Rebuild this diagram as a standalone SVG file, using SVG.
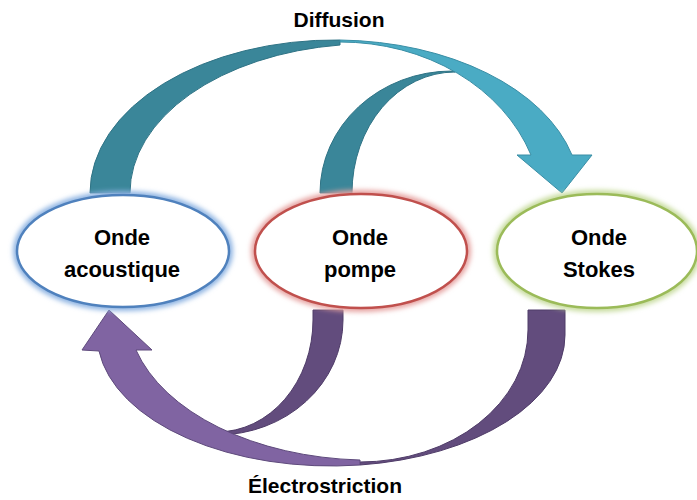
<svg xmlns="http://www.w3.org/2000/svg" width="697" height="500" viewBox="0 0 697 500">
<defs>
<filter id="glow" x="-20%" y="-30%" width="140%" height="160%"><feGaussianBlur stdDeviation="2.5"/></filter>
<style>
.tealD{fill:#3A8699;stroke:#2F7385;stroke-width:1}
.tealL{fill:#4AABC4;stroke:#3A8EA5;stroke-width:1}
.purpD{fill:#624C7D;stroke:#4F3C68;stroke-width:1}
.purpL{fill:#8064A2;stroke:#5E4A7C;stroke-width:1}
.node{fill:#ffffff;stroke-width:2.5}
.lbl{font-family:"Liberation Sans",Arial,sans-serif;font-weight:bold;font-size:22px;fill:#000;text-anchor:middle}
.cap{font-family:"Liberation Sans",Arial,sans-serif;font-weight:bold;font-size:21px;fill:#000;text-anchor:middle}
</style>
</defs>
<rect width="697" height="500" fill="#ffffff"/>
<g id="connectors">
<path class="tealD" d="M 320,193 A 132 122 0 0 1 452,71 L 455,72 A 103 121 0 0 0 352,193 Z"/>
<path class="tealD" d="M 90,193 A 245 153 0 0 1 340,40 L 340,45 A 240 149 0 0 0 130,193 Z"/>
<path class="tealL" d="M 340,40 A 245 153 0 0 1 572,155 L 592,155 L 562,193 L 517,155 L 531,155 A 202 168 0 0 0 340,42 Z"/>
<path class="purpD" d="M 343,310 L 343,320 A 126 115 0 0 1 217,435 L 217,432 A 96 112 0 0 0 313,320 L 313,310 Z"/>
<path class="purpD" d="M 565,310 L 565,335 A 234 131 0 0 1 360,465 L 360,462 A 168 132 0 0 0 528,330 L 528,310 Z"/>
<path class="purpL" d="M 360,465 A 234 131 0 0 1 99,351 L 82,350 L 109,310 L 152,350 L 136,350 A 243 150 0 0 0 360,460 Z"/>
</g>
<g id="node-acoustique">
<ellipse cx="123" cy="251" rx="106" ry="56" fill="none" stroke="#8DB3E2" stroke-width="8" filter="url(#glow)"/>
<ellipse class="node" cx="123" cy="251" rx="106" ry="56" stroke="#4F81BD"/>
<text class="lbl" x="122" y="245">Onde</text>
<text class="lbl" x="122" y="277">acoustique</text>
</g>
<g id="node-pompe">
<ellipse cx="361" cy="251" rx="106" ry="57" fill="none" stroke="#E6A3A1" stroke-width="8" filter="url(#glow)"/>
<ellipse class="node" cx="361" cy="251" rx="106" ry="57" stroke="#C0504D"/>
<text class="lbl" x="360" y="245">Onde</text>
<text class="lbl" x="360" y="277">pompe</text>
</g>
<g id="node-stokes">
<ellipse cx="597" cy="251" rx="100" ry="57" fill="none" stroke="#C6DB9C" stroke-width="8" filter="url(#glow)"/>
<ellipse class="node" cx="597" cy="251" rx="100" ry="57" stroke="#9BBB59"/>
<text class="lbl" x="599" y="245">Onde</text>
<text class="lbl" x="599" y="277">Stokes</text>
</g>
<g id="labels">
<text class="cap" x="339" y="27">Diffusion</text>
<text class="cap" x="325" y="493">Électrostriction</text>
</g>
</svg>
